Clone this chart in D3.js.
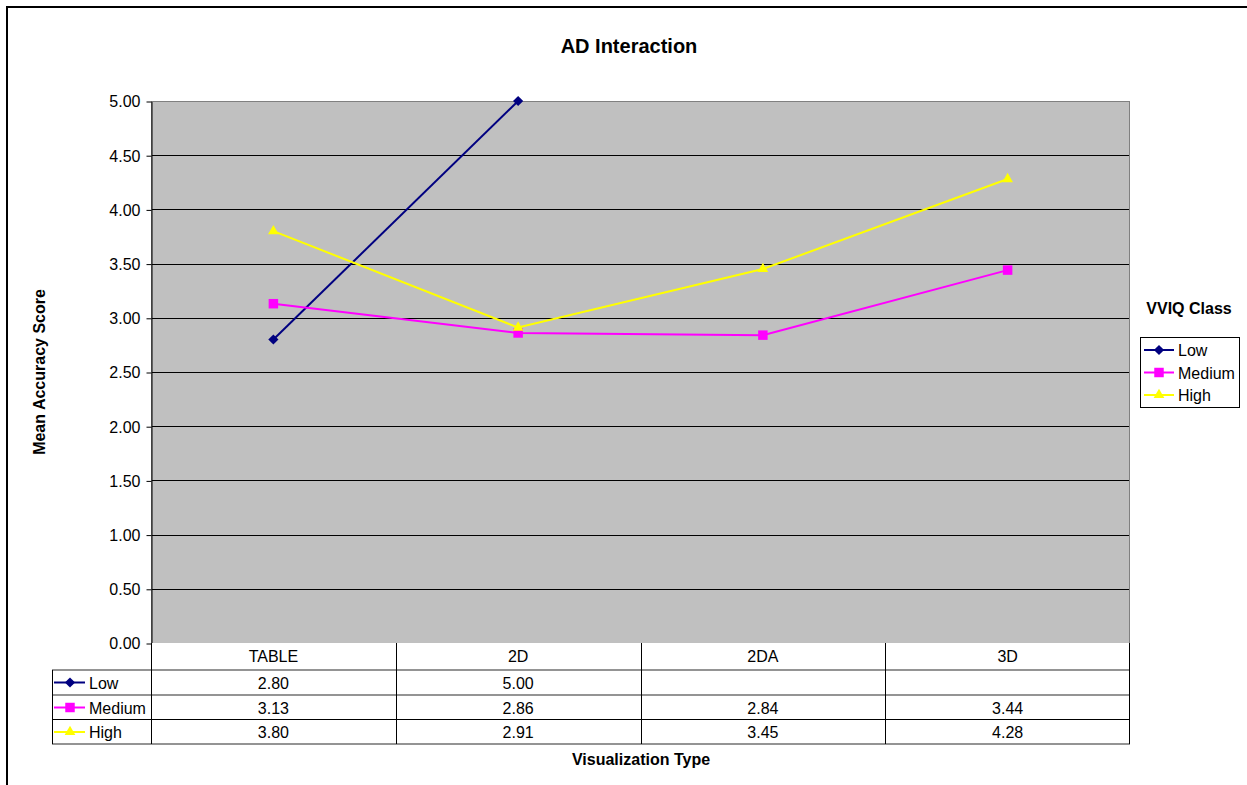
<!DOCTYPE html>
<html>
<head>
<meta charset="utf-8">
<script src="https://cdn.jsdelivr.net/npm/d3@7"></script>
<style>
  html, body { margin: 0; padding: 0; background: #fff; overflow: hidden; }
  svg { display: block; font-family: "Liberation Sans", Arial, sans-serif; }
</style>
</head>
<body>
<svg id="chart" width="1247" height="785"></svg>
<script>
// Visualization types along the x axis
const categories = ["TABLE", "2D", "2DA", "3D"];
// Mean accuracy score per VVIQ class (null = no observation)
const lowValues = [2.80, 5.00, null, null];
const mediumValues = [3.13, 2.86, 2.84, 3.44];
const highValues = [3.80, 2.91, 3.45, 4.28];
const seriesNames = ["Low", "Medium", "High"];
const yTicks = [0, 0.5, 1, 1.5, 2, 2.5, 3, 3.5, 4, 4.5, 5];

const series = [
  { name: seriesNames[0], values: lowValues, color: "#000080", marker: d3.symbolSquare, size: 52, rotate: 45 },
  { name: seriesNames[1], values: mediumValues, color: "#FF00FF", marker: d3.symbolSquare, size: 90, rotate: 0 },
  { name: seriesNames[2], values: highValues, color: "#FFFF00", marker: d3.symbolTriangle, size: 50, rotate: 0 }
];

const FONT = 16;
const svg = d3.select("#chart");
const plot = { left: 151, right: 1130, top: 101, bottom: 643 };

const x = d3.scaleBand().domain(categories).range([plot.left, plot.right]);
const y = d3.scaleLinear().domain([0, 5]).range([plot.bottom, plot.top]);

const markerPath = s => d3.symbol().type(s.marker).size(s.size)();
const markerTransform = (s, cx, cy) => `translate(${cx},${cy}) rotate(${s.rotate})`;

// Chart frame (left and top edges fall inside the view)
svg.append("path").attr("d", "M7,785 V7 H1247")
  .attr("fill", "none").attr("stroke", "#000").attr("stroke-width", 2);

// Title
svg.append("text").attr("x", 629).attr("y", 53).attr("text-anchor", "middle")
  .attr("font-size", 20).attr("font-weight", "bold").text("AD Interaction");

// Plot area
svg.append("rect").attr("x", plot.left).attr("y", plot.top)
  .attr("width", plot.right - plot.left).attr("height", plot.bottom - plot.top)
  .attr("fill", "#C0C0C0");

// Gridlines
svg.append("g").selectAll("line").data(yTicks.filter(t => t > 0 && t < 5)).join("line")
  .attr("x1", plot.left).attr("x2", plot.right)
  .attr("y1", d => Math.round(y(d)) + 0.5).attr("y2", d => Math.round(y(d)) + 0.5)
  .attr("stroke", "#000").attr("stroke-width", 1);

svg.append("rect").attr("x", plot.left + 0.5).attr("y", plot.top + 0.5)
  .attr("width", plot.right - plot.left - 1).attr("height", plot.bottom - plot.top)
  .attr("fill", "none").attr("stroke", "#808080").attr("stroke-width", 1);

// Y axis
const yAxis = d3.axisLeft(y).tickValues(yTicks).tickFormat(d3.format(".2f"))
  .tickSizeInner(5).tickSizeOuter(0).tickPadding(6);
const yg = svg.append("g").attr("transform", `translate(${plot.left + 0.5},0.5)`).call(yAxis);
yg.select(".domain").attr("stroke", "#000");
yg.selectAll(".tick line").attr("stroke", "#000");
yg.selectAll(".tick text").attr("font-size", FONT).attr("fill", "#000")
  .attr("font-family", "Liberation Sans, Arial, sans-serif")
  .attr("dy", "0.34em");

svg.append("text").attr("transform", `translate(45,${(plot.top + plot.bottom) / 2}) rotate(-90)`)
  .attr("text-anchor", "middle").attr("font-size", FONT).attr("font-weight", "bold")
  .text("Mean Accuracy Score");

// Lines and markers
const line = d3.line()
  .defined(d => d.v !== null)
  .x(d => x(d.c) + x.bandwidth() / 2)
  .y(d => y(d.v));

series.forEach(s => {
  const pts = categories.map((c, i) => ({ c, v: s.values[i] }));
  svg.append("path").datum(pts).attr("d", line)
    .attr("fill", "none").attr("stroke", s.color).attr("stroke-width", 2);
  svg.append("g").selectAll("path").data(pts.filter(p => p.v !== null)).join("path")
    .attr("transform", p => markerTransform(s, x(p.c) + x.bandwidth() / 2, y(p.v)))
    .attr("d", markerPath(s))
    .attr("fill", s.color);
});

// Data table under the plot
const table = { left: 52, header: 643, headerH: 27 };
const rowEdges = [670, 695, 719.5, 744];
const tg = svg.append("g");

tg.append("rect").attr("x", plot.left).attr("y", table.header)
  .attr("width", plot.right - plot.left).attr("height", rowEdges[3] - table.header)
  .attr("fill", "#fff");
tg.append("rect").attr("x", table.left).attr("y", rowEdges[0])
  .attr("width", plot.left - table.left).attr("height", rowEdges[3] - rowEdges[0])
  .attr("fill", "#fff");

// Row separators
rowEdges.forEach((ry, i) => {
  tg.append("line").attr("x1", table.left).attr("x2", plot.right)
    .attr("y1", ry).attr("y2", ry)
    .attr("stroke", i === 2 ? "#000" : "#707070").attr("stroke-width", i === 2 ? 1.2 : 1.6);
});

// Column separators
const colEdges = categories.map(c => Math.round(x(c)) + 0.5).concat([plot.right - 0.5]);
colEdges.forEach(cx => {
  tg.append("line").attr("x1", cx).attr("x2", cx)
    .attr("y1", table.header).attr("y2", rowEdges[3])
    .attr("stroke", "#000");
});
tg.append("line").attr("x1", table.left + 0.5).attr("x2", table.left + 0.5)
  .attr("y1", rowEdges[0]).attr("y2", rowEdges[3]).attr("stroke", "#000");

// Header labels
tg.selectAll("text.cat").data(categories).join("text")
  .attr("x", c => x(c) + x.bandwidth() / 2).attr("y", table.header + 19)
  .attr("text-anchor", "middle").attr("font-size", FONT).text(c => c);

// Values
const fmt = d3.format(".2f");
series.forEach((s, i) => {
  const top = rowEdges[i];
  categories.forEach((c, j) => {
    if (s.values[j] === null) return;
    tg.append("text").attr("x", x(c) + x.bandwidth() / 2).attr("y", top + 18.5)
      .attr("text-anchor", "middle").attr("font-size", FONT).text(fmt(s.values[j]));
  });
  // Legend key inside the table
  const cy = top + 12.5;
  tg.append("line").attr("x1", 54).attr("x2", 85).attr("y1", cy).attr("y2", cy)
    .attr("stroke", s.color).attr("stroke-width", 2);
  tg.append("path").attr("transform", markerTransform(s, 70, cy))
    .attr("d", markerPath(s)).attr("fill", s.color);
  tg.append("text").attr("x", 89).attr("y", cy + 6).attr("font-size", FONT).text(s.name);
});

// X axis title
svg.append("text").attr("x", 641).attr("y", 765).attr("text-anchor", "middle")
  .attr("font-size", FONT).attr("font-weight", "bold").text("Visualization Type");

// Legend
svg.append("text").attr("x", 1189).attr("y", 314).attr("text-anchor", "middle")
  .attr("font-size", FONT).attr("font-weight", "bold").text("VVIQ Class");
const lg = svg.append("g");
lg.append("rect").attr("x", 1140.5).attr("y", 337.5).attr("width", 99).attr("height", 70)
  .attr("fill", "#fff").attr("stroke", "#000");
series.forEach((s, i) => {
  const cy = 350 + i * 22.5;
  lg.append("line").attr("x1", 1144).attr("x2", 1174).attr("y1", cy).attr("y2", cy)
    .attr("stroke", s.color).attr("stroke-width", 2);
  lg.append("path").attr("transform", markerTransform(s, 1159, cy))
    .attr("d", markerPath(s)).attr("fill", s.color);
  lg.append("text").attr("x", 1178).attr("y", cy + 6).attr("font-size", FONT).text(s.name);
});
</script>
</body>
</html>
